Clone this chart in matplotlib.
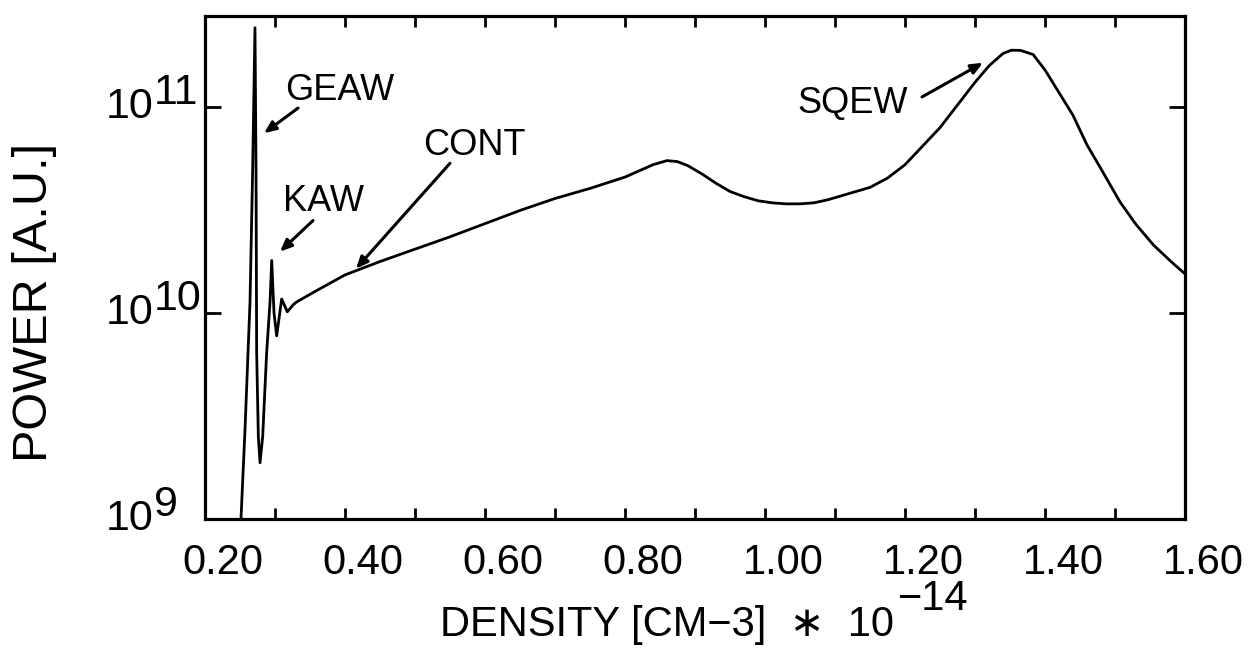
import matplotlib
matplotlib.use('Agg')
import matplotlib.pyplot as plt
import matplotlib.transforms as mtransforms
from matplotlib.ticker import NullLocator

# ---- data (power given as log10 of the value) ----
density = [0.2514, 0.2571, 0.2643, 0.2681, 0.2714, 0.2729, 0.2738, 0.2762, 0.2786,
           0.2824, 0.2881, 0.2929, 0.2953, 0.2986, 0.3024, 0.3095, 0.3176, 0.3260,
           0.331, 0.36, 0.40, 0.45, 0.50, 0.55,
           0.60, 0.65, 0.70, 0.75, 0.80, 0.82, 0.84,
           0.86, 0.875, 0.89, 0.91, 0.93, 0.95, 0.97, 0.99, 1.01, 1.03, 1.05, 1.07,
           1.09, 1.11, 1.13, 1.15, 1.175, 1.20, 1.225, 1.25, 1.275, 1.30, 1.32,
           1.34, 1.352, 1.365, 1.383, 1.40, 1.42, 1.44, 1.46, 1.48, 1.507, 1.53,
           1.555, 1.58, 1.60]
power_log10 = [9.00, 9.43, 10.054, 10.70, 11.385, 10.70, 9.81, 9.40, 9.273,
               9.40, 9.81, 10.054, 10.255, 10.00, 9.889, 10.068, 10.006, 10.04,
               10.054, 10.11, 10.185, 10.25, 10.31, 10.37,
               10.434, 10.498, 10.556, 10.605, 10.66, 10.69, 10.72,
               10.74, 10.735, 10.715, 10.675, 10.63,
               10.59, 10.565, 10.545, 10.535, 10.53, 10.53, 10.535, 10.55, 10.57,
               10.59, 10.61, 10.655, 10.72, 10.81, 10.90, 11.01, 11.12, 11.20,
               11.26, 11.276, 11.275, 11.255, 11.18, 11.07, 10.96, 10.816, 10.70,
               10.54, 10.43, 10.33, 10.25, 10.19]
power = [10.0 ** v for v in power_log10]

xtick_major = [0.20, 0.40, 0.60, 0.80, 1.00, 1.20, 1.40, 1.60]
xtick_labels = ['0.20', '0.40', '0.60', '0.80', '1.00', '1.20', '1.40', '1.60']
xtick_minor = [0.30, 0.50, 0.70, 0.90, 1.10, 1.30, 1.50]
ytick_exps = [9, 10, 11]

plt.rcParams['font.family'] = ['Liberation Sans', 'DejaVu Sans']

W, H = 1260, 661
fig = plt.figure(figsize=(W / 100, H / 100), dpi=100)
ax = fig.add_axes([205 / W, 142 / H, 980 / W, 503 / H])

ax.plot(density, power, color='black', lw=2.0, solid_joinstyle='round')
ax.set_yscale('log')
ax.set_xlim(0.2, 1.6)
ax.set_ylim(1e9, 10 ** 11.442)

for s in ax.spines.values():
    s.set_linewidth(2.3)

# x ticks
ax.set_xticks(xtick_major)
ax.set_xticklabels(xtick_labels)
ax.set_xticks(xtick_minor, minor=True)
ax.tick_params(axis='x', which='both', direction='in', top=True, bottom=True,
               length=8, width=2.0, labelsize=30, pad=17)
offset = mtransforms.ScaledTranslation(0.18, 0, fig.dpi_scale_trans)
for t in ax.xaxis.get_major_ticks():
    t.label1.set_transform(t.label1.get_transform() + offset)

# y ticks
ax.set_yticks([10.0 ** e for e in ytick_exps])
ax.set_yticklabels([''] * len(ytick_exps))
ax.yaxis.set_minor_locator(NullLocator())
ax.tick_params(axis='y', which='major', direction='in', left=True, right=True,
               length=11.5, width=2.0)

ytrans = mtransforms.blended_transform_factory(fig.transFigure, ax.transData)
sup_off = mtransforms.ScaledTranslation(0, 14 / 100, fig.dpi_scale_trans)
for e in ytick_exps:
    ax.text(106 / W, 10.0 ** e, '10', transform=ytrans, ha='left', va='center',
            fontsize=31, clip_on=False)
    ax.text(154 / W, 10.0 ** e, str(e), transform=ytrans + sup_off, ha='left',
            va='center', fontsize=31, clip_on=False)

# axis labels
fig.text(35 / W, 1 - 302 / H, 'POWER [A.U.]', rotation=90, ha='center', va='center',
         fontsize=35)
fig.text(440 / W, 1 - 636 / H, 'DENSITY [CM\u22123]  \u2217  10', ha='left',
         va='baseline', fontsize=30)
fig.text(898 / W, 1 - 610 / H, '\u221214', ha='left', va='baseline', fontsize=30)

# annotations
arrow = dict(arrowstyle='-|>,head_length=0.7,head_width=0.3', color='black', lw=2.2,
             shrinkA=0, shrinkB=0)
ax.text(0.3143, 10 ** 11.034, 'GEAW', fontsize=26, ha='left', va='baseline')
ax.annotate('', xy=(0.2843, 10 ** 10.873), xytext=(0.3329, 10 ** 10.995), arrowprops=arrow)
ax.text(0.3114, 10 ** 10.493, 'KAW', fontsize=26, ha='left', va='baseline')
ax.annotate('', xy=(0.3071, 10 ** 10.298), xytext=(0.3543, 10 ** 10.449), arrowprops=arrow)
ax.text(0.5114, 10 ** 10.766, 'CONT', fontsize=26, ha='left', va='baseline')
ax.annotate('', xy=(0.4157, 10 ** 10.215), xytext=(0.5500, 10 ** 10.727), arrowprops=arrow)
ax.text(1.2043, 10 ** 10.971, 'SQEW', fontsize=26, ha='right', va='baseline')
ax.annotate('', xy=(1.3114, 10 ** 11.215), xytext=(1.2243, 10 ** 11.049), arrowprops=arrow)

fig.savefig('out.png', dpi=100)
